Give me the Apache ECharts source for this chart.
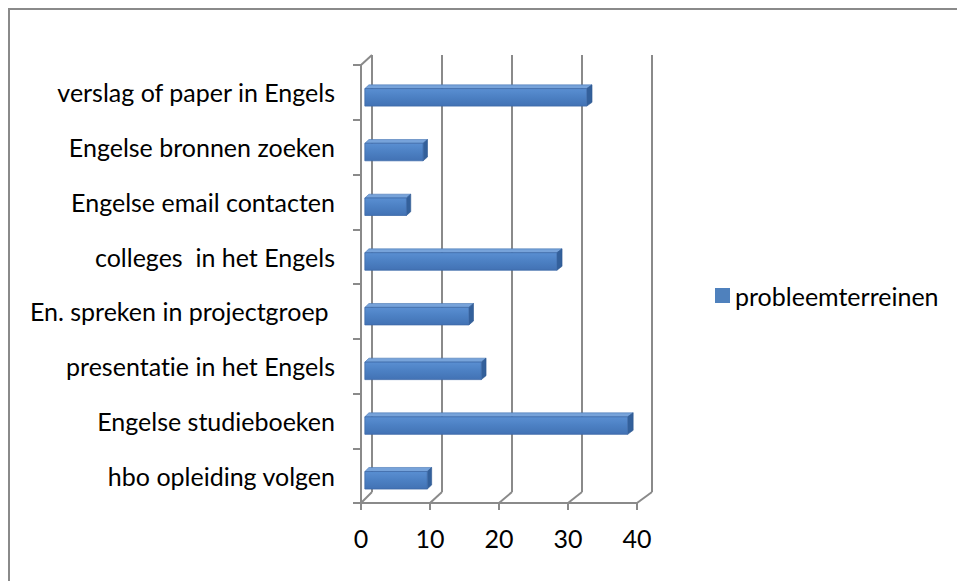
<!DOCTYPE html>
<html>
<head>
<meta charset="utf-8">
<script src="https://cdn.jsdelivr.net/npm/echarts@6/dist/echarts.min.js"></script>
<style>
  html, body { margin: 0; padding: 0; background: #fff; }
  #chart { width: 957px; height: 581px; }
  #chart text { font-variant-ligatures: none; font-feature-settings: "liga" 0, "clig" 0; }
</style>
</head>
<body>
<div id="chart"></div>
<script>
// Categories listed bottom to top (a category y-axis starts at the bottom)
const categories = [
  'hbo opleiding volgen',
  'Engelse studieboeken',
  'presentatie in het Engels',
  'En. spreken in projectgroep ',
  'colleges  in het Engels',
  'Engelse email contacten',
  'Engelse bronnen zoeken',
  'verslag of paper in Engels'
];
const values = [9, 37.9, 16.8, 15, 27.7, 6, 8.4, 32];
const seriesName = 'probleemterreinen';
const xTickValues = [0, 10, 20, 30, 40];

const FONT = 'Lato';
const FONT_SIZE = 25;
const GRID_COLOR = '#8a8a8a';

// Front plane of the 3D box and its back wall (shifted up/right for depth)
const FRONT = { left: 361, top: 65, width: 276, height: 438 };
const BACK = { left: 372, top: 55, width: 280, height: 437 };

// Move a point on the front plane towards the back wall (t = 0 front, 1 back)
function toDepth(p, t) {
  const bx = BACK.left + (p[0] - FRONT.left) * BACK.width / FRONT.width;
  const by = BACK.top + (p[1] - FRONT.top) * BACK.height / FRONT.height;
  return [p[0] + (bx - p[0]) * t, p[1] + (by - p[1]) * t];
}

function renderBar(params, api) {
  const val = api.value(0);
  const cat = api.value(1);
  const band = api.size([0, 1])[1];
  const p0 = api.coord([0, cat]);
  const x0 = p0[0];
  const x1 = api.coord([val, cat])[0];
  const h = band * 0.32;
  const yc = p0[1] + band * 0.155;
  const t1 = 0.35, t2 = 0.72;
  const TL = [x0, yc - h / 2], TR = [x1, yc - h / 2];
  const BR = [x1, yc + h / 2], BL = [x0, yc + h / 2];
  const front = [TL, TR, BR, BL].map(p => toDepth(p, t1));
  const top = [toDepth(TL, t1), toDepth(TR, t1), toDepth(TR, t2), toDepth(TL, t2)];
  const side = [toDepth(TR, t1), toDepth(BR, t1), toDepth(BR, t2), toDepth(TR, t2)];
  return {
    type: 'group',
    children: [
      { type: 'polygon', shape: { points: top },
        style: { fill: '#77a3da', stroke: '#4675b3', lineWidth: 0.6 } },
      { type: 'polygon', shape: { points: side },
        style: { fill: '#33609b', stroke: '#2d5791', lineWidth: 0.6 } },
      { type: 'polygon', shape: { points: front },
        style: {
          fill: new echarts.graphic.LinearGradient(0, 0, 0, 1, [
            { offset: 0, color: '#5a8fd2' },
            { offset: 0.5, color: '#4c80c3' },
            { offset: 1, color: '#4272b4' }
          ]),
          stroke: '#3d6aa8', lineWidth: 0.8
        } }
    ]
  };
}

// Floor diagonals and the top edge of the left wall
function renderFrame(params, api) {
  const cs = params.coordSys;
  const bottom = cs.y + cs.height;
  const style = { stroke: GRID_COLOR, lineWidth: 2 };
  const children = xTickValues.map(v => {
    const p = [api.coord([v, 0])[0], bottom];
    const q = toDepth(p, 1);
    return { type: 'line', shape: { x1: p[0], y1: p[1], x2: q[0], y2: q[1] }, style };
  });
  const tl = [cs.x, cs.y];
  const tlb = toDepth(tl, 1);
  children.push({ type: 'line', shape: { x1: tl[0], y1: tl[1], x2: tlb[0], y2: tlb[1] }, style });
  return { type: 'group', children };
}

const chart = echarts.init(document.getElementById('chart'), null, { renderer: 'svg' });

chart.setOption({
  backgroundColor: '#ffffff',
  animation: false,
  textStyle: { fontFamily: FONT },
  graphic: [{
    type: 'rect', silent: true, z: -10,
    shape: { x: 9, y: 9, width: 1000, height: 1000 },
    style: { fill: 'none', stroke: '#8a8a8a', lineWidth: 2 }
  }],
  legend: {
    data: [seriesName],
    left: 715, top: 283, padding: 0,
    icon: 'rect', itemWidth: 15, itemHeight: 15,
    textStyle: { fontFamily: FONT, fontSize: FONT_SIZE, color: '#000' }
  },
  grid: [
    { left: BACK.left, top: BACK.top, width: BACK.width, height: BACK.height },
    { left: FRONT.left, top: FRONT.top, width: FRONT.width, height: FRONT.height }
  ],
  xAxis: [
    {
      gridIndex: 0, type: 'value',
      min: xTickValues[0], max: xTickValues[xTickValues.length - 1],
      interval: xTickValues[1] - xTickValues[0],
      axisLine: { show: false }, axisTick: { show: false }, axisLabel: { show: false },
      splitLine: { show: true, lineStyle: { color: GRID_COLOR, width: 2 } }
    },
    {
      gridIndex: 1, type: 'value',
      min: xTickValues[0], max: xTickValues[xTickValues.length - 1],
      interval: xTickValues[1] - xTickValues[0],
      axisLine: { show: true, lineStyle: { color: GRID_COLOR, width: 2 } },
      axisTick: { show: true, length: 7, lineStyle: { color: GRID_COLOR, width: 2 } },
      axisLabel: { show: true, margin: 22, color: '#000', fontFamily: FONT, fontSize: FONT_SIZE },
      splitLine: { show: false }
    }
  ],
  yAxis: [
    {
      gridIndex: 0, type: 'category', data: categories,
      axisLine: { show: false }, axisTick: { show: false }, axisLabel: { show: false },
      splitLine: { show: false }
    },
    {
      gridIndex: 1, type: 'category', data: categories,
      axisLine: { show: true, lineStyle: { color: GRID_COLOR, width: 2 } },
      axisTick: { show: true, length: 8, lineStyle: { color: GRID_COLOR, width: 2 } },
      axisLabel: {
        show: true, margin: 26, color: '#000', fontFamily: FONT, fontSize: FONT_SIZE,
        padding: [8, 0, 0, 0]
      },
      splitLine: { show: false }
    }
  ],
  series: [
    {
      type: 'custom', name: '__frame', xAxisIndex: 1, yAxisIndex: 1,
      renderItem: renderFrame, data: [[0, 0]], silent: true, z: 1
    },
    {
      type: 'custom', name: seriesName, xAxisIndex: 1, yAxisIndex: 1,
      itemStyle: { color: '#4f81bd' },
      encode: { x: 0, y: 1 },
      renderItem: renderBar,
      data: values.map((v, i) => [v, i]),
      z: 3
    }
  ]
});
</script>
</body>
</html>
